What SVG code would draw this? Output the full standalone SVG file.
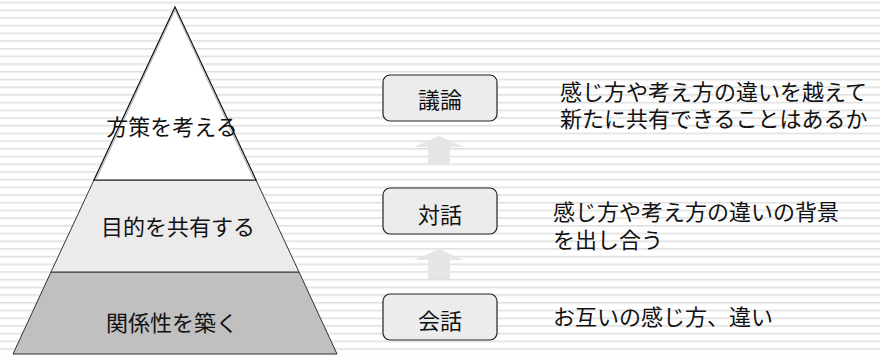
<svg xmlns="http://www.w3.org/2000/svg" width="880" height="356" viewBox="0 0 880 356">
  <defs>
    <pattern id="stripes" patternUnits="userSpaceOnUse" x="0" y="1.7" width="880" height="7.7">
      <rect x="0" y="0" width="880" height="1.1" fill="#dfdfdf"/>
      <rect x="0" y="1.1" width="880" height="1" fill="#ebebeb"/>
    </pattern>
    <style>
      .lbl { font-family: "Liberation Sans", "Noto Sans CJK JP", sans-serif; font-size: 22px; fill: #111; }
      .mid { text-anchor: middle; }
      .box { fill: #ececec; stroke: #222; stroke-width: 1.2; }
      .arrow { fill: #e6e6e6; }
      .tier { stroke: #333; stroke-width: 1; }
    </style>
  </defs>
  <rect x="0" y="0" width="880" height="356" fill="#ffffff"/>
  <rect x="0" y="0" width="880" height="356" fill="url(#stripes)"/>

  <g id="pyramid-bottom">
    <polygon class="tier" points="51,272 299,272 337,354 13,354" fill="#c0c0c0"/>
    <text class="lbl mid" x="172" y="331">関係性を築く</text>
  </g>
  <g id="pyramid-middle">
    <polygon class="tier" points="94,180 256,180 299,272 51,272" fill="#ebebeb"/>
    <text class="lbl mid" x="178" y="235">目的を共有する</text>
  </g>
  <g id="pyramid-top">
    <polygon points="175,7 256,180 94,180" fill="#ffffff" stroke="#111" stroke-width="1.2"/>
    <polyline points="96.5,178.5 175,10 253.5,178.5" fill="none" stroke="#999" stroke-width="0.8"/>
    <text class="lbl mid" x="172" y="135">方策を考える</text>
  </g>

  <g id="connectors">
    <polygon class="arrow" points="439,136 464,147 450,147 450,165 428,165 428,147 414,147"/>
    <polygon class="arrow" points="439,249 464,260 450,260 450,279 428,279 428,260 414,260"/>
  </g>

  <g id="node-giron">
    <rect class="box" x="383" y="75" width="114" height="46" rx="7"/>
    <text class="lbl mid" x="440" y="108">議論</text>
  </g>
  <g id="node-taiwa">
    <rect class="box" x="383" y="188" width="114" height="46" rx="7"/>
    <text class="lbl mid" x="440" y="223">対話</text>
  </g>
  <g id="node-kaiwa">
    <rect class="box" x="383" y="294" width="114" height="46" rx="7"/>
    <text class="lbl mid" x="440" y="329">会話</text>
  </g>

  <g id="desc-giron">
    <text class="lbl" x="560" y="100">感じ方や考え方の違いを越えて</text>
    <text class="lbl" x="560" y="127">新たに共有できることはあるか</text>
  </g>
  <g id="desc-taiwa">
    <text class="lbl" x="553" y="220">感じ方や考え方の違いの背景</text>
    <text class="lbl" x="553" y="248">を出し合う</text>
  </g>
  <g id="desc-kaiwa">
    <text class="lbl" x="553" y="325">お互いの感じ方、違い</text>
  </g>
</svg>
